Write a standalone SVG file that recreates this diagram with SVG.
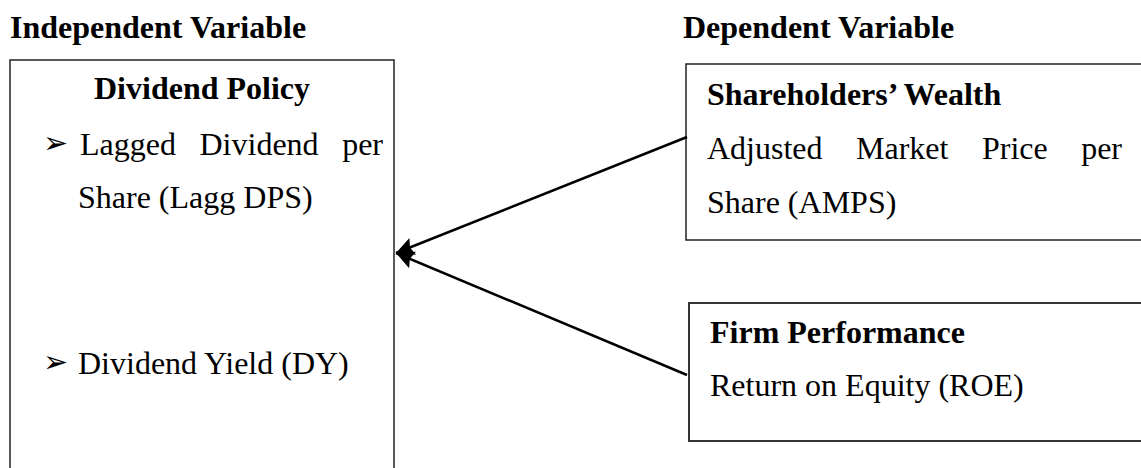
<svg xmlns="http://www.w3.org/2000/svg" width="1141" height="468" viewBox="0 0 1141 468">
<style>
.t{font-family:"Liberation Serif","Times New Roman",serif;font-size:32px;fill:#000}
.b{font-weight:bold}
.bul{font-family:"DejaVu Sans",sans-serif;font-size:30px;fill:#000}
.box{fill:none;stroke:#222;stroke-width:1.5}
.con{stroke:#000;stroke-width:2.5;fill:none}
</style>
<defs>
<marker id="ah" markerUnits="userSpaceOnUse" markerWidth="20" markerHeight="20" refX="18" refY="10" orient="auto">
<path d="M0,1 L18,10 L0,19 L3,10 z" fill="#000"/>
</marker>
</defs>
<rect width="1141" height="468" fill="#fff"/>
<text class="t b" x="10" y="38">Independent Variable</text>
<text class="t b" x="683" y="38">Dependent Variable</text>
<g id="dividend-policy">
<path class="box" d="M10,470 V60 H394 V470"/>
<text class="t b" x="202" y="99" text-anchor="middle">Dividend Policy</text>
<text class="bul" x="43" y="153">➢</text>
<text class="t" x="80" y="155">Lagged</text>
<text class="t" x="199.5" y="155">Dividend</text>
<text class="t" x="383" y="155" text-anchor="end">per</text>
<text class="t" x="78" y="208">Share (Lagg DPS)</text>
<text class="bul" x="43" y="372">➢</text>
<text class="t" x="78" y="374">Dividend Yield (DY)</text>
</g>
<g id="shareholders-wealth">
<rect class="box" x="686" y="64" width="470" height="176"/>
<text class="t b" x="707" y="105">Shareholders’ Wealth</text>
<text class="t" x="707" y="159">Adjusted</text>
<text class="t" x="856" y="159">Market</text>
<text class="t" x="982" y="159">Price</text>
<text class="t" x="1122" y="159" text-anchor="end">per</text>
<text class="t" x="707" y="213">Share (AMPS)</text>
</g>
<g id="firm-performance">
<rect class="box" x="689" y="303" width="470" height="138" style="stroke:#333;stroke-width:2"/>
<text class="t b" x="710" y="343">Firm Performance</text>
<text class="t" x="710" y="396">Return on Equity (ROE)</text>
</g>
<g id="connectors">
<line class="con" x1="687" y1="137" x2="396" y2="253" marker-end="url(#ah)"/>
<line class="con" x1="687" y1="375" x2="396" y2="253" marker-end="url(#ah)"/>
</g>
</svg>
